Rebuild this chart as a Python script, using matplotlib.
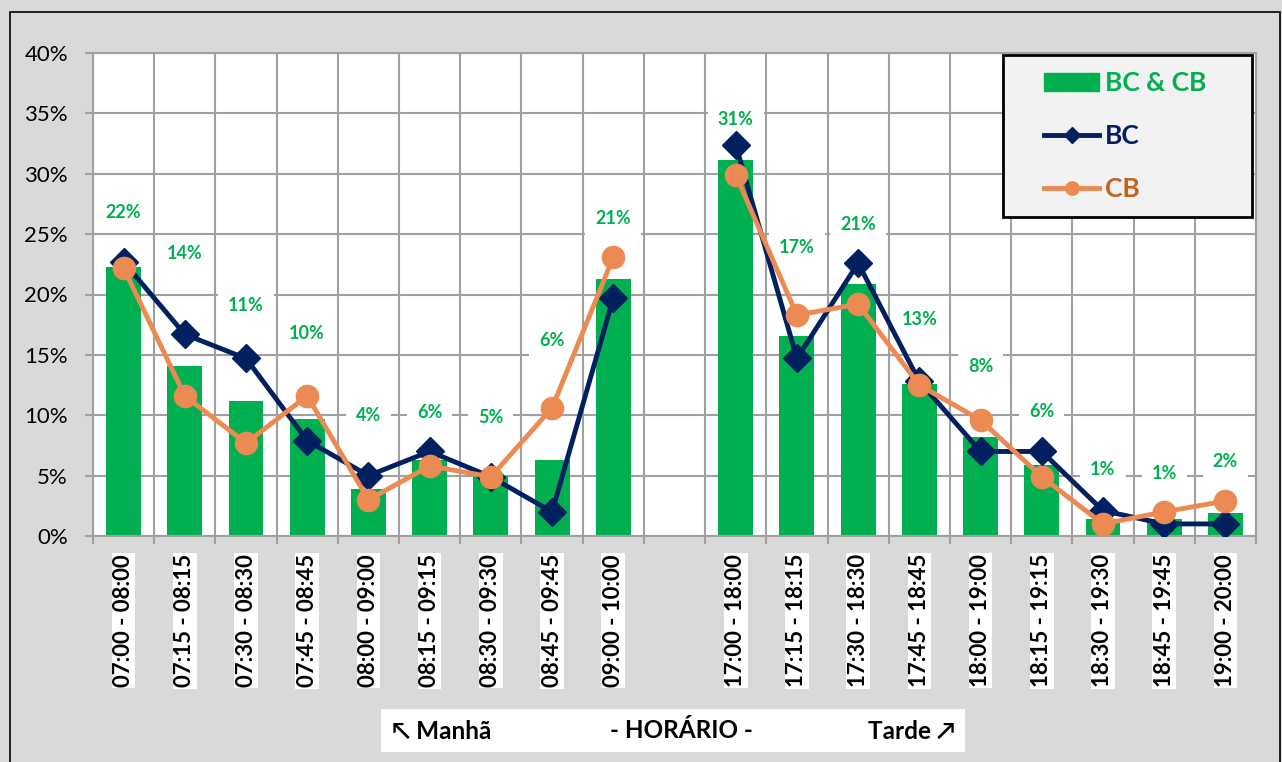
import numpy as np
import matplotlib
matplotlib.use('Agg')
import matplotlib.pyplot as plt
from matplotlib.patches import Rectangle, Patch
from matplotlib.lines import Line2D

plt.rcParams['font.family'] = ['Lato', 'DejaVu Sans']

# horários (a 10ª posição fica vazia: separa manhã e tarde)
horarios = ['07:00 - 08:00', '07:15 - 08:15', '07:30 - 08:30', '07:45 - 08:45',
            '08:00 - 09:00', '08:15 - 09:15', '08:30 - 09:30', '08:45 - 09:45',
            '09:00 - 10:00', '',
            '17:00 - 18:00', '17:15 - 18:15', '17:30 - 18:30', '17:45 - 18:45',
            '18:00 - 19:00', '18:15 - 19:15', '18:30 - 19:30', '18:45 - 19:45',
            '19:00 - 20:00']
nan = np.nan
bc_cb = [22.3, 14.1, 11.2, 9.7, 3.9, 6.3, 5.0, 6.3, 21.3, nan,
         31.1, 16.6, 20.9, 12.6, 8.2, 5.9, 1.4, 1.4, 1.9]
bc = [22.7, 16.7, 14.7, 7.9, 5.0, 7.0, 4.9, 2.0, 19.7, nan,
      32.4, 14.7, 22.6, 12.8, 7.0, 7.0, 2.1, 1.0, 1.0]
cb = [22.2, 11.6, 7.7, 11.6, 3.0, 5.8, 4.9, 10.6, 23.1, nan,
      29.9, 18.3, 19.2, 12.5, 9.6, 4.9, 1.0, 2.0, 2.9]

# altura onde ficam os rótulos (posição, não dado)
label_y = [26.8, 23.4, 19.1, 16.8, 10.0, 10.2, 9.8, 16.2, 26.3, nan,
           34.5, 23.9, 25.8, 17.9, 14.0, 10.3, 5.5, 5.2, 6.2]

verde = '#00b050'
azul = '#002060'
laranja = '#eb8a52'
cinza = '#a0a0a0'

fig = plt.figure(figsize=(12.82, 7.62), dpi=100, facecolor='#d9d9d9')
W, H = 1282, 762
ax = fig.add_axes([93 / W, 1 - 536 / H, (1256 - 93) / W, (536 - 53) / H])
ax.set_facecolor('white')

# moldura do gráfico
fig.patches.append(Rectangle((10 / W, -0.01), (1280 - 10) / W, 1 - 12 / H + 0.01,
                             transform=fig.transFigure, fill=False,
                             edgecolor='black', linewidth=1.2))

x = np.arange(len(horarios))
ax.bar(x, bc_cb, width=0.57, color=verde, zorder=2, label='BC & CB')
ax.plot(x, bc, color=azul, lw=3.5, marker='D', ms=14, zorder=4, label='BC')
ax.plot(x, cb, color=laranja, lw=3.5, marker='o', ms=16, zorder=5, label='CB')

for i in range(len(horarios)):
    if np.isnan(bc_cb[i]):
        continue
    ax.text(x[i], label_y[i], '%d%%' % round(bc_cb[i]), color=verde,
            fontsize=13, fontweight='bold', ha='center', va='center', zorder=3,
            bbox=dict(boxstyle='square,pad=0.55', facecolor='white', edgecolor='none'))

ax.set_xlim(-0.5, len(horarios) - 0.5)
ax.set_ylim(0, 40)
ax.set_yticks(np.arange(0, 41, 5))
ax.set_yticklabels(['%d%%' % v for v in range(0, 41, 5)], fontsize=16)
ax.set_xticks(x)
ax.set_xticklabels(horarios, rotation=90, fontsize=16, fontweight='bold')
ax.set_xticks(np.arange(-0.5, len(horarios), 1), minor=True)
ax.tick_params(axis='x', which='major', length=0, pad=13)
ax.tick_params(axis='x', which='minor', length=6, color=cinza, width=1.5)
ax.tick_params(axis='y', length=6, color=cinza, width=1.5, pad=12)
for lab in ax.get_xticklabels():
    lab.set_bbox(dict(facecolor='white', edgecolor='none', pad=1))

ax.grid(axis='y', which='major', color=cinza, lw=1.5, zorder=0)
ax.grid(axis='x', which='minor', color=cinza, lw=1.5, zorder=0)
ax.set_axisbelow(True)
for s in ax.spines.values():
    s.set_color(cinza)
    s.set_linewidth(1.5)

# legenda com caixa própria
ax.add_patch(Rectangle(((1003 - 93) / 1163, (536 - 217) / 483),
                       (1252 - 1003) / 1163, (217 - 55) / 483,
                       transform=ax.transAxes, facecolor='#f2f2f2',
                       edgecolor='black', lw=2, zorder=6, clip_on=False))
handles = [Patch(color=verde),
           Line2D([], [], color=azul, lw=3.5, marker='D', ms=14),
           Line2D([], [], color=laranja, lw=3.5, marker='o', ms=16)]
leg = ax.legend(handles, ['BC & CB', 'BC', 'CB'], loc='upper left',
                bbox_to_anchor=((1044 - 93) / 1163, (536 - 71) / 483),
                frameon=False, borderpad=0, borderaxespad=0,
                prop={'size': 19, 'weight': 'bold'}, handlelength=2.1,
                handletextpad=0.2, labelspacing=1.1, markerscale=0.6)
leg.set_zorder(7)
for t, c in zip(leg.get_texts(), [verde, azul, '#c9601c']):
    t.set_color(c)

# caixa do eixo x
fig.patches.append(Rectangle((381 / W, 1 - 752 / H), (965 - 381) / W, 43 / H,
                             transform=fig.transFigure, facecolor='white',
                             edgecolor='none'))
ty = 1 - 731 / H
fig.text(392 / W, ty, '↖ Manhã', fontsize=17.5, fontweight='bold', ha='left', va='center')
fig.text(681 / W, ty, '- HORÁRIO -', fontsize=17.5, fontweight='bold', ha='center', va='center')
fig.text(955 / W, ty, 'Tarde ↗', fontsize=17.5, fontweight='bold', ha='right', va='center')

fig.savefig('out.png', dpi=100, facecolor=fig.get_facecolor())
